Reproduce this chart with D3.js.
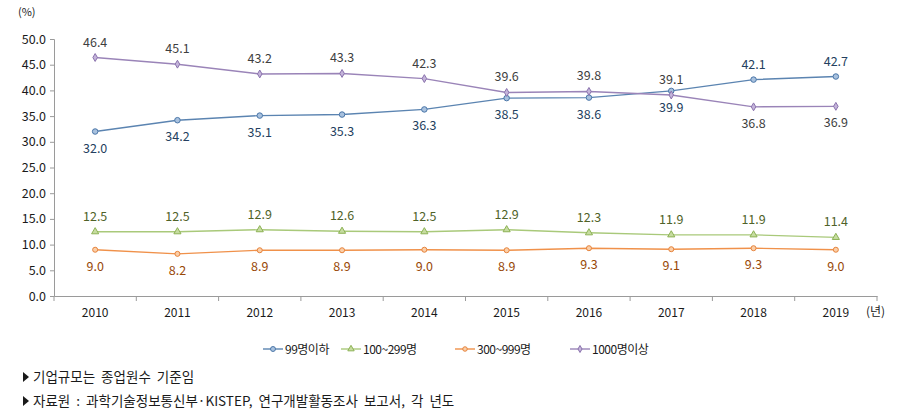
<!DOCTYPE html>
<html><head><meta charset="utf-8">
<script src="https://cdn.jsdelivr.net/npm/d3@7"></script>
<style>
body{margin:0;background:#fff;}
svg text{font-family:"Noto Sans CJK KR","Noto Sans",sans-serif;}
</style></head>
<body><svg id="c" width="899" height="420"></svg>
<script>
const years = ["2010","2011","2012","2013","2014","2015","2016","2017","2018","2019"];
const yTicks = [0,5,10,15,20,25,30,35,40,45,50];
const seriesNames = ["99명이하","100~299명","300~999명","1000명이상"];
const s99 = [32.0,34.2,35.1,35.3,36.3,38.5,38.6,39.9,42.1,42.7];
const s100 = [12.5,12.5,12.9,12.6,12.5,12.9,12.3,11.9,11.9,11.4];
const s300 = [9.0,8.2,8.9,8.9,9.0,8.9,9.3,9.1,9.3,9.0];
const s1000 = [46.4,45.1,43.2,43.3,42.3,39.6,39.8,39.1,36.8,36.9];
// label placement: 1 = above, -1 = below
const pos99 = [-1,-1,-1,-1,-1,-1,-1,-1,1,1];
const pos100 = [1,1,1,1,1,1,1,1,1,1];
const pos300 = [-1,-1,-1,-1,-1,-1,-1,-1,-1,-1];
const pos1000 = [1,1,1,1,1,1,1,1,-1,-1];
const notes = ["기업규모는 종업원수 기준임","자료원 : 과학기술정보통신부·KISTEP, 연구개발활동조사 보고서, 각 년도"];

const series = [
  {name:seriesNames[0], v:s99, pos:pos99, line:"#5b84b1", fill:"#a8c1de", stroke:"#4a76a8", lab:"#243f60", sym:d3.symbolCircle, size:24},
  {name:seriesNames[1], v:s100, pos:pos100, line:"#a9c97a", fill:"#c6dca0", stroke:"#8db255", lab:"#4f6228", sym:d3.symbolTriangle, size:22},
  {name:seriesNames[2], v:s300, pos:pos300, line:"#f0914a", fill:"#fbcfa8", stroke:"#e6833c", lab:"#984807", sym:d3.symbolCircle, size:20},
  {name:seriesNames[3], v:s1000, pos:pos1000, line:"#9a84b8", fill:"#c4b4da", stroke:"#8a72ad", lab:"#3f3f3f", sym:d3.symbolDiamond, size:18}
];

const svg = d3.select("#c");
const x = d3.scaleBand().domain(years).range([54,877]);
const y = d3.scaleLinear().domain([0,50]).range([296,39]);

// y axis
const ya = svg.append("g").attr("transform","translate(54,0)")
  .call(d3.axisLeft(y).tickValues(yTicks).tickFormat(d3.format(".1f")).tickSize(4));
ya.select(".domain").attr("stroke","#9a9a9a");
ya.selectAll(".tick line").attr("stroke","#9a9a9a");
ya.selectAll("text").attr("font-size",12.5).attr("fill","#1a1a1a").attr("x",-8);

// x axis
const xa = svg.append("g").attr("transform","translate(0,296)")
  .call(d3.axisBottom(x).tickSize(0).tickSizeOuter(0));
xa.select(".domain").attr("stroke","#9a9a9a");
xa.selectAll("text").attr("font-size",12).attr("fill","#1a1a1a").attr("dy","1.5em");
// band boundary ticks
svg.append("g").selectAll("line").data(years.concat(["end"])).join("line")
  .attr("x1",(d,i)=> i<years.length ? x(d) : x.range()[1])
  .attr("x2",(d,i)=> i<years.length ? x(d) : x.range()[1])
  .attr("y1",296).attr("y2",301).attr("stroke","#9a9a9a");

svg.append("text").attr("x",18).attr("y",16).attr("font-size",11).attr("fill","#1a1a1a").text("(%)");
svg.append("text").attr("x",866).attr("y",316).attr("font-size",12).attr("fill","#1a1a1a").text("(년)");

const cx = d => x(d) + x.bandwidth()/2;
const line = d3.line().x((d,i)=>cx(years[i])).y(d=>y(d));

series.forEach(s=>{
  const g = svg.append("g");
  g.append("path").datum(s.v).attr("d",line).attr("fill","none").attr("stroke",s.line).attr("stroke-width",1.4);
  g.selectAll("path.m").data(s.v).join("path").attr("class","m")
    .attr("transform",(d,i)=>`translate(${cx(years[i])},${y(d)})`)
    .attr("d",d3.symbol().type(s.sym).size(s.size))
    .attr("fill",s.fill).attr("stroke",s.stroke).attr("stroke-width",1);
  g.selectAll("text").data(s.v).join("text")
    .attr("x",(d,i)=>cx(years[i]))
    .attr("y",(d,i)=> y(d) + (s.pos[i]>0 ? -11 : 21))
    .attr("text-anchor","middle").attr("font-size",12.5).attr("fill",s.lab)
    .text(d=>d3.format(".1f")(d));
});

// legend
const legX = [263,341,455,570];
const lg = svg.append("g");
series.forEach((s,i)=>{
  const gx = legX[i], gy = 349;
  lg.append("line").attr("x1",gx).attr("x2",gx+20).attr("y1",gy).attr("y2",gy).attr("stroke",s.line).attr("stroke-width",1.4);
  lg.append("path").attr("transform",`translate(${gx+10},${gy})`).attr("d",d3.symbol().type(s.sym).size(s.size*0.8))
    .attr("fill",s.fill).attr("stroke",s.stroke);
  lg.append("text").attr("x",gx+22).attr("y",gy+4.5).attr("font-size",12).attr("fill","#1a1a1a").attr("letter-spacing",-0.5).text(s.name);
});

// notes
notes.forEach((t,i)=>{
  const ny = 377 + i*24;
  svg.append("path").attr("d",`M23,${ny-5}L29,${ny}L23,${ny+5}Z`).attr("fill","#1a1a1a");
  svg.append("text").attr("x",33).attr("y",ny+5).attr("font-size",13.5).attr("word-spacing",3).attr("fill","#1a1a1a").text(t);
});
</script></body></html>
